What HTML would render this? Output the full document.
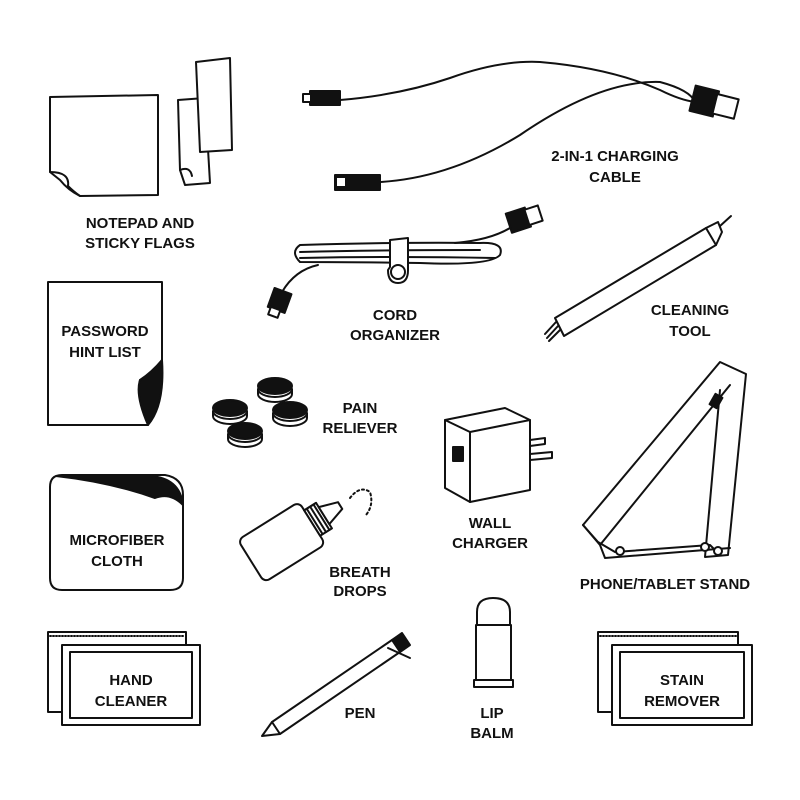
<!DOCTYPE html>
<html><head><meta charset="utf-8"><style>
html,body{margin:0;padding:0;background:#fff;width:800px;height:800px;overflow:hidden}
svg text{font-family:"Liberation Sans",sans-serif;font-weight:bold;font-size:15px;fill:#111;text-anchor:middle}
</style></head><body>
<svg width="800" height="800" viewBox="0 0 800 800" xmlns="http://www.w3.org/2000/svg">
<g fill="none" stroke="#111" stroke-width="2" stroke-linejoin="round" stroke-linecap="round">
<!-- notepad -->
<path d="M50,97 L158,95 L158,195 L80,196 Q68,190 60,180 L50,172 Z" fill="#fff"/>
<path d="M50,172 Q70,172 68,186 Q74,192 80,196" />
<!-- sticky flags -->
<path d="M178,100 L205,98 L210,183 L185,185 L180,170 Z" fill="#fff"/>
<path d="M196,62 L230,58 L232,150 L200,152 Z" fill="#fff"/>
<path d="M180,170 Q190,166 192,176"/>
<!-- cable -->
<path d="M340,100 Q400,95 450,78 Q500,60 540,62 Q610,68 660,90 Q680,100 695,102"/>
<path d="M380,182 Q450,178 520,135 Q600,80 660,82 Q690,90 695,102"/>
<rect x="310" y="91" width="30" height="14" fill="#111"/><rect x="303" y="94" width="8" height="8" fill="#fff"/>
<rect x="335" y="175" width="45" height="15" fill="#111"/><rect x="336" y="177" width="10" height="10" fill="#fff"/>
<g transform="rotate(14 712 103)"><rect x="692" y="90" width="24" height="26" fill="#111"/><rect x="715" y="93" width="22" height="20" fill="#fff"/></g>
<!-- cord organizer -->
<path d="M300,245 Q290,252 300,262 Q350,262 420,263 Q490,266 500,255 Q505,242 480,243 Q400,242 300,245 Z"/>
<path d="M300,252 Q380,250 480,250 M300,258 Q390,256 495,258"/>
<path d="M390,267 L390,240 L408,238 L408,270 Q408,283 398,283 Q388,283 388,270 Z" fill="#fff"/>
<circle cx="398" cy="272" r="7"/>
<path d="M455,243 Q490,240 510,228"/>
<g transform="rotate(-18 525 218)"><rect x="508" y="208" width="20" height="20" fill="#111"/><rect x="527" y="210" width="14" height="16" fill="#fff"/></g>
<path d="M318,265 Q295,270 282,292"/>
<g transform="rotate(20 278 302)"><rect x="270" y="290" width="18" height="20" fill="#111"/><rect x="273" y="309" width="10" height="8" fill="#fff"/></g>
<!-- cleaning tool -->
<path d="M555,318 L706,228 L716,245 L564,336 Z" fill="#fff"/>
<path d="M706,228 L718,222 L722,232 L716,245"/><path d="M720,226 L731,216"/>
<path d="M556,322 L545,334 M558,326 L547,338 M560,330 L549,341"/>
<!-- password -->
<path d="M48,282 L162,282 L162,360 Q150,380 140,380 Q150,395 148,425 L48,425 Z" fill="#fff"/>
<path d="M162,360 Q165,405 148,425 Q135,395 140,380 Q152,372 162,360 Z" fill="#111"/>
<!-- pills -->
<g fill="#111">
<ellipse cx="275" cy="386" rx="17" ry="8"/><ellipse cx="230" cy="408" rx="17" ry="8"/>
<ellipse cx="290" cy="410" rx="17" ry="8"/><ellipse cx="245" cy="431" rx="17" ry="8"/></g>
<g fill="#fff"><path d="M258,389 v5 a17,8 0 0 0 34,0 v-5 a17,8 0 0 1 -34,0"/>
<path d="M213,411 v5 a17,8 0 0 0 34,0 v-5 a17,8 0 0 1 -34,0"/>
<path d="M273,413 v5 a17,8 0 0 0 34,0 v-5 a17,8 0 0 1 -34,0"/>
<path d="M228,434 v5 a17,8 0 0 0 34,0 v-5 a17,8 0 0 1 -34,0"/></g>
<!-- microfiber -->
<path d="M62,475 L165,475 Q183,478 183,495 L183,578 Q183,590 170,590 L62,590 Q50,590 50,578 L50,487 Q50,475 62,475 Z" fill="#fff"/>
<path d="M56,476 L150,476 Q180,478 183,505 Q170,492 155,498 Q110,482 56,476 Z" fill="#111"/>
<!-- wall charger -->
<path d="M445,420 L505,408 L530,420 L530,490 L470,502 L445,488 Z" fill="#fff"/>
<path d="M445,420 L470,432 L530,420 M470,432 L470,502"/>
<rect x="453" y="447" width="10" height="14" fill="#111"/>
<path d="M530,440 L545,438 L545,444 L530,446 M530,454 L552,452 L552,458 L530,460"/>
<!-- breath drops -->
<g transform="rotate(-32 285 540)">
<rect x="245" y="515" width="72" height="50" rx="6" fill="#fff"/>
<rect x="317" y="525" width="14" height="30" fill="#fff"/>
<path d="M317,525 h14 M320,525 v30 M324,525 v30 M328,525 v30"/>
<path d="M331,530 L350,536 L350,544 L331,550 Z" fill="#fff"/></g>
<path d="M350,498 Q360,485 370,492 Q374,505 366,515" stroke-dasharray="2 3"/>
<!-- phone stand -->
<path d="M583,525 L720,362 L746,374 L728,555 L705,557 L720,390" fill="#fff"/>
<path d="M583,525 L600,545 L730,385 M600,545 L605,558 L730,548"/>
<path d="M583,525 L598,542 L615,552 L710,545 L720,555"/>
<rect x="712" y="395" width="8" height="12" fill="#111" transform="rotate(30 716 401)"/>
<circle cx="620" cy="551" r="4" fill="#fff"/><circle cx="705" cy="547" r="4" fill="#fff"/><circle cx="718" cy="551" r="4" fill="#fff"/>
<!-- hand cleaner -->
<rect x="48" y="632" width="138" height="80" fill="#fff"/>
<path d="M50,636 h134" stroke-dasharray="1 2"/>
<rect x="62" y="645" width="138" height="80" fill="#fff"/>
<rect x="70" y="652" width="122" height="66" />
<!-- stain remover -->
<rect x="598" y="632" width="140" height="80" fill="#fff"/>
<path d="M600,636 h136" stroke-dasharray="1 2"/>
<rect x="612" y="645" width="140" height="80" fill="#fff"/>
<rect x="620" y="652" width="124" height="66" />
<!-- pen -->
<path d="M272,722 L392,640 L400,652 L280,734 Z" fill="#fff"/>
<path d="M272,722 L262,736 L280,734"/>
<path d="M392,640 L402,633 L410,645 L400,652" fill="#111"/>
<path d="M388,648 L410,658"/>
<!-- lip balm -->
<path d="M477,625 L477,612 Q477,598 493,598 Q510,598 510,612 L510,625 Z" fill="#fff"/>
<rect x="476" y="625" width="35" height="55" fill="#fff"/>
<rect x="474" y="680" width="39" height="7" fill="#fff"/>
</g>
<text x="140" y="228">NOTEPAD AND</text><text x="140" y="248">STICKY FLAGS</text>
<text x="615" y="161">2-IN-1 CHARGING</text><text x="615" y="182">CABLE</text>
<text x="395" y="320">CORD</text><text x="395" y="340">ORGANIZER</text>
<text x="690" y="315">CLEANING</text><text x="690" y="336">TOOL</text>
<text x="105" y="336">PASSWORD</text><text x="105" y="357">HINT LIST</text>
<text x="360" y="413">PAIN</text><text x="360" y="433">RELIEVER</text>
<text x="117" y="545">MICROFIBER</text><text x="117" y="566">CLOTH</text>
<text x="490" y="528">WALL</text><text x="490" y="548">CHARGER</text>
<text x="360" y="577">BREATH</text><text x="360" y="596">DROPS</text>
<text x="665" y="589">PHONE/TABLET STAND</text>
<text x="131" y="685">HAND</text><text x="131" y="706">CLEANER</text>
<text x="360" y="718">PEN</text>
<text x="492" y="718">LIP</text><text x="492" y="738">BALM</text>
<text x="682" y="685">STAIN</text><text x="682" y="706">REMOVER</text>
</svg>
</body></html>
